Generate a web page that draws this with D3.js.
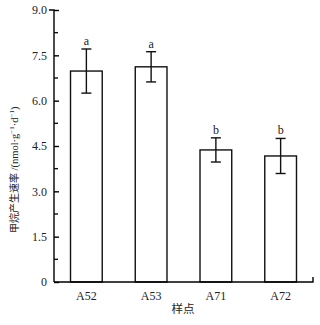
<!DOCTYPE html>
<html>
<head>
<meta charset="utf-8">
<script src="https://cdn.jsdelivr.net/npm/d3@7"></script>
<style>
  body { margin: 0; background: #fff; }
  svg text { font-family: "Liberation Serif", "Times New Roman", "DejaVu Serif", serif; fill: #222; }
</style>
</head>
<body>
<div id="chart"></div>
<script>
var sites = ['A52', 'A53', 'A71', 'A72'];
var rates = [6.98, 7.12, 4.37, 4.17];
var errors = [0.73, 0.50, 0.40, 0.58];
var letters = ['a', 'a', 'b', 'b'];
var yTicks = [0, 1.5, 3.0, 4.5, 6.0, 7.5, 9.0];

var margin = {top: 10, right: 7, bottom: 43, left: 54};
var width = 320 - margin.left - margin.right,
    height = 325 - margin.top - margin.bottom;

var serif = '"Liberation Serif", "Times New Roman", serif';
var cjk = '"Noto Sans CJK SC", sans-serif';

var svg = d3.select('#chart').append('svg')
    .attr('width', 320)
    .attr('height', 325);

var g = svg.append('g')
    .attr('transform', 'translate(' + margin.left + ',' + margin.top + ')');

var x = d3.scaleBand()
    .domain(sites)
    .range([0, width])
    .paddingInner(0.51)
    .paddingOuter(0.255);

var y = d3.scaleLinear()
    .domain([0, 9])
    .range([height, 0]);

// bars
g.selectAll('rect.bar').data(rates)
  .enter().append('rect')
    .attr('class', 'bar')
    .attr('x', function(d, i) { return x(sites[i]); })
    .attr('y', function(d) { return y(d); })
    .attr('width', x.bandwidth())
    .attr('height', function(d) { return height - y(d); })
    .style('fill', '#fff')
    .style('stroke', '#111')
    .style('stroke-width', 1.4);

// error bars
var cap = 5;
var err = g.selectAll('g.err').data(rates)
  .enter().append('g')
    .attr('class', 'err')
    .style('stroke', '#111')
    .style('stroke-width', 1.4);

err.append('line')
    .attr('x1', function(d, i) { return x(sites[i]) + x.bandwidth() / 2; })
    .attr('x2', function(d, i) { return x(sites[i]) + x.bandwidth() / 2; })
    .attr('y1', function(d, i) { return y(d + errors[i]); })
    .attr('y2', function(d, i) { return y(d - errors[i]); });
err.append('line')
    .attr('x1', function(d, i) { return x(sites[i]) + x.bandwidth() / 2 - cap; })
    .attr('x2', function(d, i) { return x(sites[i]) + x.bandwidth() / 2 + cap; })
    .attr('y1', function(d, i) { return y(d + errors[i]); })
    .attr('y2', function(d, i) { return y(d + errors[i]); });
err.append('line')
    .attr('x1', function(d, i) { return x(sites[i]) + x.bandwidth() / 2 - cap; })
    .attr('x2', function(d, i) { return x(sites[i]) + x.bandwidth() / 2 + cap; })
    .attr('y1', function(d, i) { return y(d - errors[i]); })
    .attr('y2', function(d, i) { return y(d - errors[i]); });

// significance letters
g.selectAll('text.sig').data(rates)
  .enter().append('text')
    .attr('class', 'sig')
    .attr('x', function(d, i) { return x(sites[i]) + x.bandwidth() / 2; })
    .attr('y', function(d, i) { return y(d + errors[i]) - 4; })
    .attr('text-anchor', 'middle')
    .style('font-family', serif)
    .style('font-size', '12px')
    .text(function(d, i) { return letters[i]; });

// y axis
var yAxis = d3.axisLeft(y)
    .tickValues(yTicks)
    .tickSize(-5)
    .tickPadding(7)
    .tickFormat(function(d) { return d === 0 ? '0' : d3.format('.1f')(d); });

var yg = g.append('g').call(yAxis)
    .attr('font-family', serif)
    .attr('font-size', 12);
yg.select('.domain').attr('d', 'M-5,0H0V' + height).style('stroke-width', 1.4);
yg.selectAll('.tick line').style('stroke-width', 1.4);
yg.selectAll('.tick text')
    .style('font-family', serif)
    .style('font-size', '12px')
    .attr('fill', '#222');

// minor ticks
var minor = d3.range(0.75, 9, 1.5);
g.append('g').selectAll('line').data(minor)
  .enter().append('line')
    .attr('x1', 0)
    .attr('x2', 4)
    .attr('y1', function(d) { return y(d); })
    .attr('y2', function(d) { return y(d); })
    .style('stroke', '#111')
    .style('stroke-width', 1.4);

// x axis
var xAxis = d3.axisBottom(x).tickSize(0).tickPadding(9);
var xg = g.append('g')
    .attr('transform', 'translate(0,' + height + ')')
    .call(xAxis)
    .attr('font-family', serif)
    .attr('font-size', 12);
xg.select('.domain').attr('d', 'M0,0H' + width + 'V-5').style('stroke-width', 1.4);
xg.selectAll('.tick text')
    .style('font-family', serif)
    .style('font-size', '12px')
    .attr('fill', '#222');

// axis titles
svg.append('text')
    .attr('x', 183)
    .attr('y', 313)
    .attr('text-anchor', 'middle')
    .style('font-family', cjk)
    .style('font-size', '11.5px')
    .text('样点');

var yl = svg.append('text')
    .attr('transform', 'translate(18,233) rotate(-90)')
    .attr('text-anchor', 'start')
    .style('font-family', serif)
    .style('font-size', '10.5px');
yl.append('tspan')
    .style('font-family', cjk)
    .style('font-size', '10px')
    .text('甲烷产生速率');
yl.append('tspan').text(' /(nmol·g');
yl.append('tspan').attr('dy', -4).style('font-size', '7px').text('−1');
yl.append('tspan').attr('dy', 4).text('·d');
yl.append('tspan').attr('dy', -4).style('font-size', '7px').text('−1');
yl.append('tspan').attr('dy', 4).text(')');
</script>
</body>
</html>
